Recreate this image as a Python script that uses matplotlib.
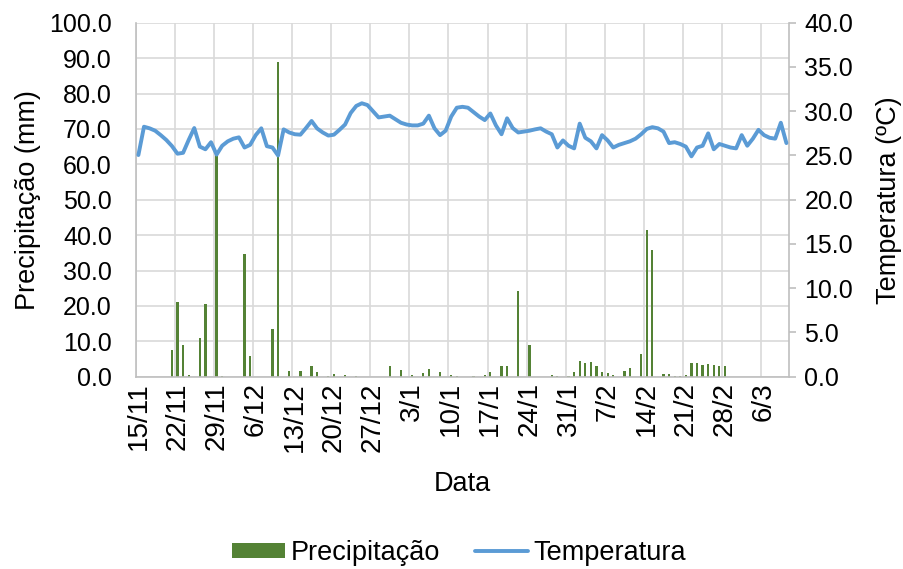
import matplotlib
matplotlib.use("Agg")
import matplotlib.pyplot as plt
import pandas as pd
import numpy as np

plt.rcParams['font.family'] = ['Liberation Sans', 'DejaVu Sans']

# daily series, 15/11 to 10/3
dates = pd.date_range('2019-11-15', periods=117, freq='D')

precip = [0, 0, 0, 0, 0, 0, 7.6, 21.2, 9.0, 0.5,
          0, 10.9, 20.5, 0, 63.5, 0.3, 0, 0, 0, 34.8,
          5.9, 0, 0, 0, 13.4, 89.0, 0, 1.7, 0, 1.7,
          0, 2.9, 1.3, 0, 0.3, 0.8, 0, 0.6, 0, 0.2,
          0, 0, 0, 0, 0, 3.1, 0, 2.0, 0, 0.6,
          0, 0.9, 2.2, 0, 1.3, 0, 0.6, 0.2, 0, 0,
          0.3, 0, 0.4, 1.2, 0, 2.9, 2.9, 0, 24.2, 0,
          9.0, 0, 0, 0, 0.5, 0.3, 0, 0.2, 1.3, 4.5,
          4.0, 4.1, 3.1, 1.3, 0.9, 0.4, 0, 1.5, 2.4, 0,
          6.5, 41.4, 35.8, 0, 0.8, 0.8, 0.3, 0.3, 0.4, 3.8,
          3.8, 3.2, 3.5, 3.2, 3.0, 2.9, 0, 0, 0, 0,
          0, 0, 0, 0, 0, 0, 0]

temp = [25.05, 28.25, 28.07, 27.8, 27.3, 26.75, 26.07, 25.2, 25.3, 26.75,
        28.1, 26.0, 25.7, 26.5, 25.1, 26.1, 26.6, 26.9, 27.05, 25.9,
        26.2, 27.3, 28.07, 26.05, 25.9, 25.0, 27.95, 27.6, 27.4, 27.35,
        28.1, 28.9, 28.05, 27.6, 27.25, 27.35, 27.9, 28.5, 29.8, 30.6,
        30.9, 30.7, 30.0, 29.3, 29.4, 29.5, 29.1, 28.7, 28.5, 28.4,
        28.4, 28.6, 29.5, 28.07, 27.3, 27.8, 29.4, 30.4, 30.5, 30.4,
        29.9, 29.4, 29.0, 29.75, 28.4, 27.4, 29.2, 28.1, 27.6, 27.7,
        27.8, 27.95, 28.07, 27.7, 27.4, 25.9, 26.7, 26.1, 25.8, 28.6,
        27.0, 26.6, 25.8, 27.3, 26.7, 25.9, 26.2, 26.4, 26.6, 26.9,
        27.4, 28.0, 28.2, 28.07, 27.7, 26.4, 26.5, 26.3, 26.0, 24.9,
        25.9, 26.1, 27.5, 25.7, 26.3, 26.1, 25.9, 25.8, 27.3, 26.1,
        26.9, 27.9, 27.3, 27.0, 26.9, 28.7, 26.4]

tick_idx = list(range(0, len(dates), 7))
tick_labels = [f"{dates[i].day}/{dates[i].month}" for i in tick_idx]

green = '#548235'
blue = '#5B9BD5'
grid_c = '#D9D9D9'
axis_c = '#BFBFBF'
fs_y = 18
fs_x = 20
fs_lab = 19.5

fig = plt.figure(figsize=(9.04, 5.69), dpi=100)
ax = fig.add_axes([0.150, 0.338, 0.723, 0.622])
x = np.arange(len(dates))

bars = ax.bar(x, precip, width=0.4, color=green, zorder=2, label='Precipitação')
ax.set_xlim(-0.5, len(dates) - 0.5)
ax.set_ylim(0, 100)
ax.set_yticks(np.arange(0, 101, 10))
ax.set_yticklabels([f"{v:.1f}" for v in np.arange(0, 101, 10)])
ax.set_xticks(tick_idx)
ax.set_xticklabels(tick_labels, rotation=90)
ax.set_xticks(np.array(tick_idx) - 0.5, minor=True)
ax.tick_params(axis='x', which='both', length=0, labelsize=fs_x, pad=4)
ax.tick_params(axis='y', length=0, labelsize=fs_y, pad=17)
ax.grid(axis='y', color=grid_c, lw=1.2, zorder=0)
ax.grid(axis='x', which='minor', color=grid_c, lw=1.2, zorder=0)
ax.set_axisbelow(True)
for s in ['top', 'right']:
    ax.spines[s].set_visible(False)
for s in ['left', 'bottom']:
    ax.spines[s].set_color(axis_c)
    ax.spines[s].set_linewidth(1.2)
ax.set_ylabel('Precipitação (mm)', fontsize=fs_lab, labelpad=6)
ax.set_xlabel('Data', fontsize=fs_lab, labelpad=14)

ax2 = ax.twinx()
line, = ax2.plot(x, temp, color=blue, lw=2.8, solid_joinstyle='round',
                 solid_capstyle='round', label='Temperatura', zorder=3)
ax2.set_ylim(0, 40)
ax2.set_yticks(np.arange(0, 41, 5))
ax2.set_yticklabels([f"{v:.1f}" for v in np.arange(0, 41, 5)])
ax2.tick_params(axis='y', length=5, color=axis_c, width=1.2, labelsize=fs_y, pad=6)
for s in ['top', 'left', 'bottom']:
    ax2.spines[s].set_visible(False)
ax2.spines['right'].set_color(axis_c)
ax2.spines['right'].set_linewidth(1.2)
ax2.set_ylabel('Temperatura (ºC)', fontsize=fs_lab, labelpad=16)

fig.legend([bars, line], ['Precipitação', 'Temperatura'], loc='center',
           bbox_to_anchor=(459 / 904, 1 - 553 / 569), ncol=2, frameon=False,
           fontsize=fs_lab, handlelength=1.95, handleheight=0.5, handletextpad=0.2,
           columnspacing=1.3)

fig.savefig('out.png', dpi=100)
